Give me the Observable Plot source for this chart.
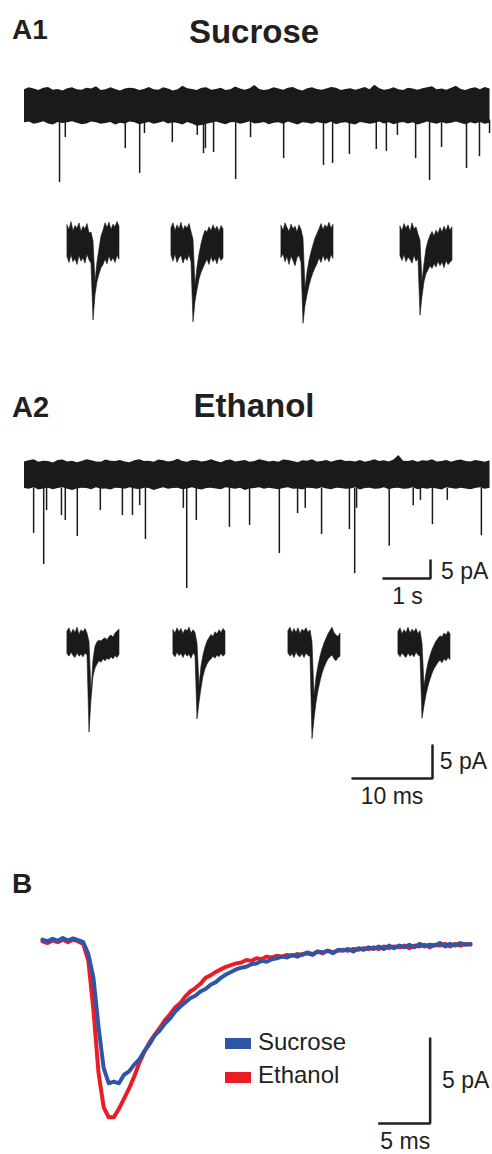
<!DOCTYPE html>
<html><head><meta charset="utf-8">
<script src="https://cdn.jsdelivr.net/npm/d3@7"></script>
<script src="https://cdn.jsdelivr.net/npm/@observablehq/plot@0.6"></script>
<style>
body{margin:0;background:#fff;}
#fig{position:relative;width:492px;height:1154px;overflow:hidden;font-family:"Liberation Sans",Arial,sans-serif;color:#231f20;background:#fff;}
.lbl{position:absolute;line-height:1;white-space:nowrap;}
.b{font-weight:bold;}
.sw{position:absolute;width:26px;height:11px;}
#fig svg{position:absolute;overflow:visible;background:transparent;}
</style></head><body><div id="fig"></div>
<script>
// ---------- Panel A: continuous recordings (time in s, current in pA) ----------
const tEnv = [0,0.1,0.2,0.3,0.4,0.5,0.6,0.7,0.8,0.9,1,1.1,1.2,1.3,1.4,1.5,1.6,1.7,1.8,1.9,2,2.1,2.2,2.3,2.4,2.5,2.6,2.7,2.8,2.9,3,3.1,3.2,3.3,3.4,3.5,3.6,3.7,3.8,3.9,4,4.1,4.2,4.3,4.4,4.5,4.6,4.7,4.8,4.9,5,5.1,5.2,5.3,5.4,5.5,5.6,5.7,5.8,5.9,6,6.1,6.2,6.3,6.4,6.5,6.6,6.7,6.8,6.9,7,7.1,7.2,7.3,7.4,7.5,7.6,7.7,7.8,7.9,8,8.1,8.2,8.3,8.4,8.5,8.6,8.7,8.8,8.9,9,9.1,9.2,9.3,9.4,9.5,9.6,9.7];

const a1Hi = [4.4,4.9,4.6,4.2,4.8,5.0,4.3,4.5,4.1,4.7,
4.9,4.4,4.3,4.8,4.6,5.2,4.2,4.4,4.9,4.5,
4.1,4.6,4.8,4.7,4.2,4.5,5.0,4.4,4.3,4.9,
4.6,4.1,4.4,5.3,4.7,4.5,4.2,4.8,4.9,4.3,
4.5,4.8,4.2,4.4,5.1,4.6,4.3,4.7,5.5,4.5,
4.2,4.4,4.9,4.6,4.3,4.8,5.0,4.4,4.1,4.7,
4.9,4.5,4.3,4.6,5.0,4.8,4.2,4.5,4.7,4.3,
4.6,5.0,4.4,5.6,4.7,4.3,4.5,4.9,4.4,4.2,
4.8,4.6,4.3,4.7,4.9,5.2,4.4,4.6,4.3,4.8,
5.3,4.5,4.2,4.7,4.9,4.4,5.0,4.6];
const a1Lo = [-4.3,-4.1,-4.7,-4.4,-4.0,-4.6,-4.9,-4.2,-4.5,-4.3,
-4.0,-4.4,-4.8,-4.6,-4.1,-4.3,-4.7,-4.5,-4.2,-4.9,
-4.4,-4.6,-4.1,-4.3,-4.8,-4.5,-4.2,-4.7,-4.4,-4.0,
-4.6,-4.3,-4.5,-4.9,-4.2,-4.6,-5.2,-5.0,-4.7,-4.4,
-4.1,-4.5,-4.8,-4.3,-4.2,-4.7,-4.4,-4.0,-4.6,-4.5,
-4.2,-4.8,-4.4,-4.3,-4.7,-4.1,-4.5,-4.9,-4.3,-4.4,
-4.7,-4.2,-4.5,-4.6,-4.1,-4.8,-4.4,-4.3,-4.6,-4.9,
-4.2,-4.4,-4.7,-4.5,-4.1,-4.6,-4.3,-4.8,-4.4,-4.2,
-4.6,-4.3,-4.9,-4.5,-4.1,-4.4,-4.7,-4.2,-4.6,-4.4,
-4.1,-4.5,-4.8,-4.3,-4.6,-4.2,-4.7,-4.4];

const a1EventT   = [0.73,0.85,2.10,2.40,2.50,3.08,3.60,3.73,3.77,3.94,4.40,4.71,5.40,6.23,6.42,6.77,7.33,7.54,7.77,8.15,8.44,8.69,9.21,9.48,9.69];
const a1EventAmp = [-20.0,-8.2,-11.1,-17.6,-7.1,-9.5,-7.6,-12.4,-11.1,-12.1,-19.2,-8.2,-13.7,-15.5,-15.0,-12.6,-11.3,-11.8,-7.6,-13.7,-19.5,-10.8,-16.3,-13.2,-7.1];

const a2Hi = [3.3,3.6,3.9,3.2,3.5,3.4,3.0,3.7,3.8,3.3,
3.5,3.1,3.4,3.9,3.6,3.3,3.2,3.8,3.5,3.4,
3.7,3.3,3.1,3.6,3.9,3.4,3.5,3.2,3.8,3.6,
3.3,3.5,4.0,3.4,3.2,3.7,3.6,3.3,3.5,3.9,
3.4,3.1,3.6,3.8,3.3,3.5,3.7,3.2,3.4,3.9,
3.6,3.3,3.5,3.2,3.8,3.7,3.4,3.1,3.6,3.5,
3.9,3.3,3.4,3.7,3.2,3.6,3.8,3.4,3.5,3.3,
3.7,3.2,3.5,3.9,3.4,3.6,3.3,3.8,5.0,3.5,
3.4,3.7,3.2,3.6,3.5,3.9,3.3,3.4,3.7,3.2,
3.6,3.8,3.4,3.3,3.7,3.5,3.2,3.6];
const a2Lo = [-3.7,-3.9,-3.5,-4.1,-3.8,-3.6,-4.0,-3.7,-3.5,-3.9,
-4.2,-3.8,-3.6,-3.7,-4.0,-3.5,-3.9,-3.8,-4.1,-3.6,
-3.7,-3.9,-3.5,-3.8,-4.0,-3.6,-3.7,-4.2,-3.8,-3.5,
-3.9,-3.7,-3.6,-4.0,-3.8,-3.5,-3.9,-4.1,-3.7,-3.6,
-3.8,-4.0,-3.5,-3.7,-3.9,-3.6,-4.2,-3.8,-3.7,-3.5,
-3.9,-3.6,-3.8,-4.0,-3.7,-3.5,-3.9,-3.8,-4.1,-3.6,
-3.7,-3.9,-3.5,-3.8,-4.0,-3.6,-3.7,-3.9,-3.8,-3.5,
-4.1,-3.7,-3.6,-3.9,-3.8,-3.5,-4.0,-3.7,-3.6,-3.9,
-3.8,-3.5,-4.0,-3.7,-3.9,-3.6,-3.8,-4.1,-3.5,-3.7,
-3.9,-3.6,-3.8,-4.0,-3.7,-3.5,-3.9,-3.6];

const a2EventT   = [0.19,0.40,0.46,0.77,0.85,1.10,1.58,2.04,2.25,2.40,2.52,3.31,3.38,3.58,4.27,4.69,5.31,5.69,5.85,6.19,6.77,6.88,6.92,7.60,8.10,8.25,8.50,8.81,9.52];
const a2EventAmp = [-15.5,-23.7,-9.5,-10.8,-12.1,-16.3,-9.5,-10.8,-10.8,-8.2,-17.1,-8.9,-30.0,-12.1,-13.9,-13.4,-20.8,-10.3,-8.9,-15.8,-14.5,-26.1,-8.9,-18.9,-8.2,-6.8,-13.2,-6.8,-16.1];

// ---------- Panel A: single events (time in ms, current in pA) ----------
const tInset = [0,0.25,0.5,0.75,1,1.25,1.5,1.75,2,2.25,2.5,2.75,3,3.25,3.5,3.75,4,4.25,4.5,4.75,5,5.25,5.5,5.75,6,6.25,6.5];

const sucEv1Hi = [2.6,1.9,3.1,1.7,2.5,2.1,2.9,1.6,2.4,2.0,2.8,1.4,1.5,0.2,-6.0,-3.0,-1.0,0.9,1.8,2.9,2.2,3.0,1.9,2.7,2.3,3.1,2.4];
const sucEv1Lo = [-2.2,-3.1,-1.9,-3.0,-2.5,-3.4,-2.0,-2.9,-2.4,-3.2,-1.8,-2.7,-3.2,-11.8,-8.0,-6.0,-4.8,-3.9,-3.4,-2.6,-3.3,-2.1,-2.9,-2.4,-3.1,-2.0,-2.6];
const sucEv2Hi = [2.2,2.9,1.7,2.6,2.0,3.0,1.8,2.5,2.1,2.8,1.6,0.4,-6.5,-3.8,-1.8,-0.3,0.9,1.8,1.5,2.3,1.7,2.6,1.9,2.4,1.6,2.5,2.0];
const sucEv2Lo = [-2.0,-2.9,-1.8,-3.1,-2.4,-2.0,-3.2,-2.3,-2.8,-1.9,-3.0,-12.1,-9.0,-7.2,-5.6,-4.6,-3.9,-3.2,-2.6,-3.4,-2.2,-3.0,-2.5,-3.3,-2.1,-2.8,-2.4];
const sucEv3Hi = [2.5,1.8,2.9,2.2,1.6,2.7,2.0,2.4,1.5,2.6,1.9,0.6,-7.0,-4.5,-2.8,-1.5,-0.4,0.6,1.3,2.0,2.8,1.9,2.6,2.2,3.0,2.1,2.7];
const sucEv3Lo = [-2.3,-1.8,-3.0,-2.2,-3.4,-2.1,-2.8,-3.6,-2.4,-2.0,-3.1,-12.3,-9.6,-8.0,-6.6,-5.5,-4.6,-3.9,-3.3,-2.4,-3.1,-2.0,-2.8,-2.3,-3.0,-1.9,-2.5];
const sucEv4Hi = [2.4,1.7,2.8,2.1,2.6,1.6,2.9,2.0,2.3,1.2,0.3,-6.0,-3.2,-1.0,0.2,1.0,1.6,0.9,1.8,1.3,2.2,1.5,2.4,1.7,2.6,1.8,2.3];
const sucEv4Lo = [-2.1,-2.8,-1.9,-3.0,-2.3,-2.6,-3.2,-2.0,-2.9,-2.5,-11.1,-8.2,-6.0,-4.8,-4.2,-3.6,-4.0,-3.3,-3.8,-2.9,-3.6,-3.0,-3.9,-2.8,-3.4,-3.1,-2.7];

const ethEv1Hi = [1.8,2.3,1.4,2.1,1.6,2.4,1.3,2.0,1.7,2.2,1.5,0.2,-7.5,-2.5,-0.5,0.2,0.4,0.3,0.6,0.8,0.5,1.0,1.2,0.9,1.5,1.8,2.1];
const ethEv1Lo = [-1.6,-2.0,-1.4,-1.9,-2.2,-1.5,-2.0,-1.7,-2.1,-1.5,-1.8,-13.5,-8.5,-5.0,-3.8,-3.2,-2.7,-2.9,-2.4,-2.7,-2.3,-2.5,-2.1,-2.4,-1.9,-2.2,-1.7];
const ethEv2Hi = [2.0,1.5,2.3,1.7,2.2,1.4,2.1,1.8,2.4,1.5,2.0,1.6,0.0,-6.5,-3.5,-1.8,-0.6,0.3,0.8,1.3,1.0,1.7,1.4,2.0,1.6,2.2,1.8];
const ethEv2Lo = [-1.7,-2.1,-1.4,-1.9,-1.6,-2.2,-1.5,-2.0,-1.7,-2.3,-1.5,-1.9,-11.5,-9.0,-6.8,-5.0,-3.9,-3.2,-2.7,-2.4,-2.0,-2.3,-1.8,-2.1,-1.6,-2.0,-1.7];
const ethEv3Hi = [1.9,2.4,1.5,2.2,1.6,2.3,1.4,2.1,1.8,2.3,1.6,2.0,0.2,-8.0,-5.2,-3.4,-2.0,-0.9,0.0,0.7,1.4,1.9,2.4,1.6,1.2,1.0,1.5];
const ethEv3Lo = [-1.5,-2.0,-1.6,-2.2,-1.4,-1.9,-2.1,-1.6,-2.2,-1.5,-1.9,-2.0,-14.5,-11.5,-9.0,-7.2,-5.8,-4.6,-3.7,-3.0,-2.4,-2.1,-1.8,-2.4,-2.7,-2.2,-2.0];
const ethEv4Hi = [1.8,2.3,1.4,2.0,1.6,2.4,1.5,2.1,1.7,2.2,1.4,1.9,0.0,-6.5,-4.5,-3.0,-1.9,-1.0,-0.3,0.3,0.7,1.1,0.9,1.5,1.2,1.8,1.4];
const ethEv4Lo = [-1.6,-2.1,-1.5,-1.9,-2.2,-1.5,-2.0,-1.7,-2.1,-1.4,-1.8,-2.0,-11.4,-9.5,-7.8,-6.5,-5.5,-4.6,-3.9,-3.4,-2.9,-2.6,-3.0,-2.4,-2.7,-2.2,-2.5];

// ---------- Panel B: averaged events (time in ms, current in pA) ----------
const tB = [0,0.5,1,1.5,2,2.5,3,3.5,4,4.5,5,5.5,6,6.5,7,7.5,8,8.5,9,9.5,10,10.5,11,11.5,12,12.5,13,13.5,14,14.5,15,15.5,16,16.5,17,17.5,18,18.5,19,19.5,20,20.5,21,21.5,22,22.5,23,23.5,24,24.5,25,25.5,26,26.5,27,27.5,28,28.5,29,29.5,30,30.5,31,31.5,32,32.5,33,33.5,34,34.5,35,35.5,36,36.5,37,37.5,38,38.5,39,39.5,40,40.5,41,41.5,42];
const sucroseAvg = [0.05,-0.05,0.1,-0.02,0.15,0.0,0.12,0.02,-0.1,-0.8,
-2.2,-5.1,-7.5,-8.4,-8.3,-8.4,-7.9,-7.7,-7.3,-7.0,
-6.5,-6.1,-5.6,-5.3,-4.9,-4.6,-4.2,-3.9,-3.65,-3.4,
-3.25,-3.0,-2.85,-2.6,-2.45,-2.2,-2.0,-1.85,-1.7,-1.6,
-1.55,-1.4,-1.35,-1.2,-1.25,-1.1,-1.05,-0.95,-1.0,-0.85,
-0.95,-0.8,-0.75,-0.85,-0.65,-0.7,-0.6,-0.75,-0.55,-0.6,
-0.5,-0.65,-0.45,-0.55,-0.4,-0.5,-0.35,-0.5,-0.3,-0.45,
-0.3,-0.4,-0.25,-0.4,-0.2,-0.35,-0.25,-0.3,-0.15,-0.35,
-0.2,-0.3,-0.15,-0.25,-0.2];
const ethanolAvg = [-0.05,-0.15,0.0,-0.1,0.05,-0.1,0.05,-0.05,-0.2,-1.2,
-4.1,-7.8,-9.8,-10.4,-10.4,-9.9,-9.3,-8.7,-8.0,-7.2,
-6.55,-6.0,-5.55,-5.15,-4.7,-4.35,-3.95,-3.7,-3.3,-3.0,
-2.8,-2.55,-2.2,-2.05,-1.85,-1.7,-1.55,-1.45,-1.35,-1.3,
-1.15,-1.2,-1.05,-1.1,-0.95,-1.0,-0.9,-0.95,-0.85,-0.9,
-0.8,-0.85,-0.7,-0.8,-0.65,-0.75,-0.6,-0.7,-0.6,-0.55,
-0.6,-0.5,-0.55,-0.45,-0.5,-0.4,-0.5,-0.35,-0.45,-0.35,
-0.4,-0.3,-0.45,-0.3,-0.35,-0.25,-0.4,-0.25,-0.3,-0.2,
-0.35,-0.2,-0.3,-0.2,-0.25];

const conditions = ["Sucrose", "Ethanol"];
const conditionColors = ["#2d57a6", "#ec1c24"];

// scale bar sizes
const barTraceSec = 1, barTracePA = 5;
const barEventMs = 10, barEventPA = 5;
const barAvgMs = 5, barAvgPA = 5;

// ---------- build ----------
const fig = document.getElementById("fig");
const INK = "#1a1a1a";
const FONT = '"Liberation Sans", Arial, sans-serif';

function place(el, left, top) {
  el.style.left = left + "px";
  el.style.top = top + "px";
  fig.append(el);
}
function label(text, left, top, size, bold, extra) {
  const d = document.createElement("div");
  d.className = "lbl" + (bold ? " b" : "");
  d.textContent = text;
  d.style.fontSize = size + "px";
  d.style.left = left + "px";
  d.style.top = top + "px";
  if (extra) Object.assign(d.style, extra);
  fig.append(d);
  return d;
}
const env = (t, hi, lo) => t.map((x, i) => ({t: x, hi: hi[i], lo: lo[i]}));
const evs = (t, a) => t.map((x, i) => ({t: x, amp: a[i]}));

function tracePlot(envData, evData, yDomain, height, extra = []) {
  return Plot.plot({
    width: 468, height, margin: 0, marginRight: 2,
    x: {domain: [0, 9.71], axis: null},
    y: {domain: yDomain, axis: null},
    style: {fontFamily: FONT, overflow: "visible", background: "transparent"},
    marks: [
      Plot.ruleX(evData, {x: "t", y1: -3.6, y2: "amp", stroke: INK, strokeWidth: 1.5}),
      Plot.areaY(envData, {x: "t", y1: "lo", y2: "hi", fill: INK, curve: "linear"}),
      ...extra
    ]
  });
}
function insetPlot(hi, lo, yDomain, height) {
  return Plot.plot({
    width: 52, height, margin: 0,
    x: {domain: [0, 6.5], axis: null},
    y: {domain: yDomain, axis: null},
    style: {overflow: "visible", background: "transparent"},
    marks: [
      Plot.areaY(env(tInset, hi, lo), {x: "t", y1: "lo", y2: "hi", fill: INK, stroke: INK, strokeWidth: 0.6, curve: "linear"})
    ]
  });
}
function scaleBar(cx, cy, w, h) {
  return [{x: cx - w, y: cy}, {x: cx, y: cy}, {x: cx, y: cy + h}];
}

// titles
label("A1", 12, 15.5, 28, true);
label("Sucrose", 54, 15, 33, true, {width: "400px", textAlign: "center"});
label("A2", 12, 392.5, 29, true);
label("Ethanol", 54, 389, 33, true, {width: "400px", textAlign: "center"});
label("B", 12, 869.5, 28, true);

// A1 continuous trace
place(tracePlot(env(tEnv, a1Hi, a1Lo), evs(a1EventT, a1EventAmp), [-22.1, 6.84], 110), 24, 80);

// A1 single events
const yIn1 = [-13.33, 4.85];
place(insetPlot(sucEv1Hi, sucEv1Lo, yIn1, 120), 67, 210);
place(insetPlot(sucEv2Hi, sucEv2Lo, yIn1, 120), 171, 210);
place(insetPlot(sucEv3Hi, sucEv3Lo, yIn1, 120), 281, 210);
place(insetPlot(sucEv4Hi, sucEv4Lo, yIn1, 120), 400, 210);

// A2 continuous trace with 1 s / 5 pA bar
const cA = {t: 8.46, v: -27.4};
place(tracePlot(env(tEnv, a2Hi, a2Lo), evs(a2EventT, a2EventAmp), [-35.79, 6.32], 160, [
  Plot.line(scaleBar(cA.t, cA.v, barTraceSec, barTracePA), {x: "x", y: "y", stroke: "#231f20", strokeWidth: 2.5, strokeLinejoin: "miter", strokeLinecap: "butt"}),
  Plot.text([`${barTracePA} pA`], {x: 8.68, y: -27.6, text: d => d, textAnchor: "start", lineAnchor: "bottom", fontSize: 23, fill: "#231f20"}),
  Plot.text([`${barTraceSec} s`], {x: 7.98, y: -34.2, text: d => d, textAnchor: "middle", lineAnchor: "bottom", fontSize: 23, fill: "#231f20"})
]), 24, 450);

// A2 single events
const yIn2 = [-15.45, 4.24];
place(insetPlot(ethEv1Hi, ethEv1Lo, yIn2, 130), 67, 615);
place(insetPlot(ethEv2Hi, ethEv2Lo, yIn2, 130), 173, 615);
place(insetPlot(ethEv3Hi, ethEv3Lo, yIn2, 130), 288, 615);
place(insetPlot(ethEv4Hi, ethEv4Lo, yIn2, 130), 398, 615);

// single-event scale bar (10 ms / 5 pA)
place(Plot.plot({
  width: 152, height: 75, margin: 0,
  x: {domain: [0, 19], axis: null},
  y: {domain: [-11.36, 0], axis: null},
  style: {fontFamily: FONT, overflow: "visible", background: "transparent"},
  marks: [
    Plot.line(scaleBar(11.5, -6.52, barEventMs, barEventPA), {x: "x", y: "y", stroke: "#231f20", strokeWidth: 2.5, strokeLinejoin: "miter"}),
    Plot.text([`${barEventPA} pA`], {x: 12.4, y: -5.0, text: d => d, textAnchor: "start", lineAnchor: "bottom", fontSize: 23, fill: "#231f20"}),
    Plot.text([`${barEventMs} ms`], {x: 6.44, y: -10.3, text: d => d, textAnchor: "middle", lineAnchor: "bottom", fontSize: 23, fill: "#231f20"})
  ]
}), 340, 735);

// Panel B
const avgData = [
  ...tB.map((t, i) => ({t, v: ethanolAvg[i], c: conditions[1]})),
  ...tB.map((t, i) => ({t, v: sucroseAvg[i], c: conditions[0]}))
];
place(Plot.plot({
  width: 492, height: 239, marginTop: 0, marginBottom: 0, marginLeft: 42, marginRight: 22,
  x: {domain: [0, 42], axis: null},
  y: {domain: [-12.59, 1.47], axis: null},
  color: {domain: conditions, range: conditionColors},
  style: {fontFamily: FONT, overflow: "visible", background: "transparent"},
  marks: [
    Plot.line(avgData, {x: "t", y: "v", z: "c", stroke: "c", strokeWidth: 4, curve: "linear"}),
    Plot.line(scaleBar(38.04, -10.76, barAvgMs, barAvgPA), {x: "x", y: "y", stroke: "#231f20", strokeWidth: 2.5, strokeLinejoin: "miter"}),
    Plot.text([`${barAvgPA} pA`], {x: 39.2, y: -8.7, text: d => d, textAnchor: "start", lineAnchor: "bottom", fontSize: 23, fill: "#231f20"}),
    Plot.text([`${barAvgMs} ms`], {x: 35.6, y: -12.25, text: d => d, textAnchor: "middle", lineAnchor: "bottom", fontSize: 23, fill: "#231f20"})
  ]
}), 0, 915);

// legend
conditions.forEach((c, i) => {
  const s = document.createElement("div");
  s.className = "sw";
  s.style.background = conditionColors[i];
  s.style.left = "225px";
  s.style.top = (1038 + i * 34) + "px";
  fig.append(s);
  label(c, 258, 1029.7 + i * 33, 24, false);
});
</script></body></html>
